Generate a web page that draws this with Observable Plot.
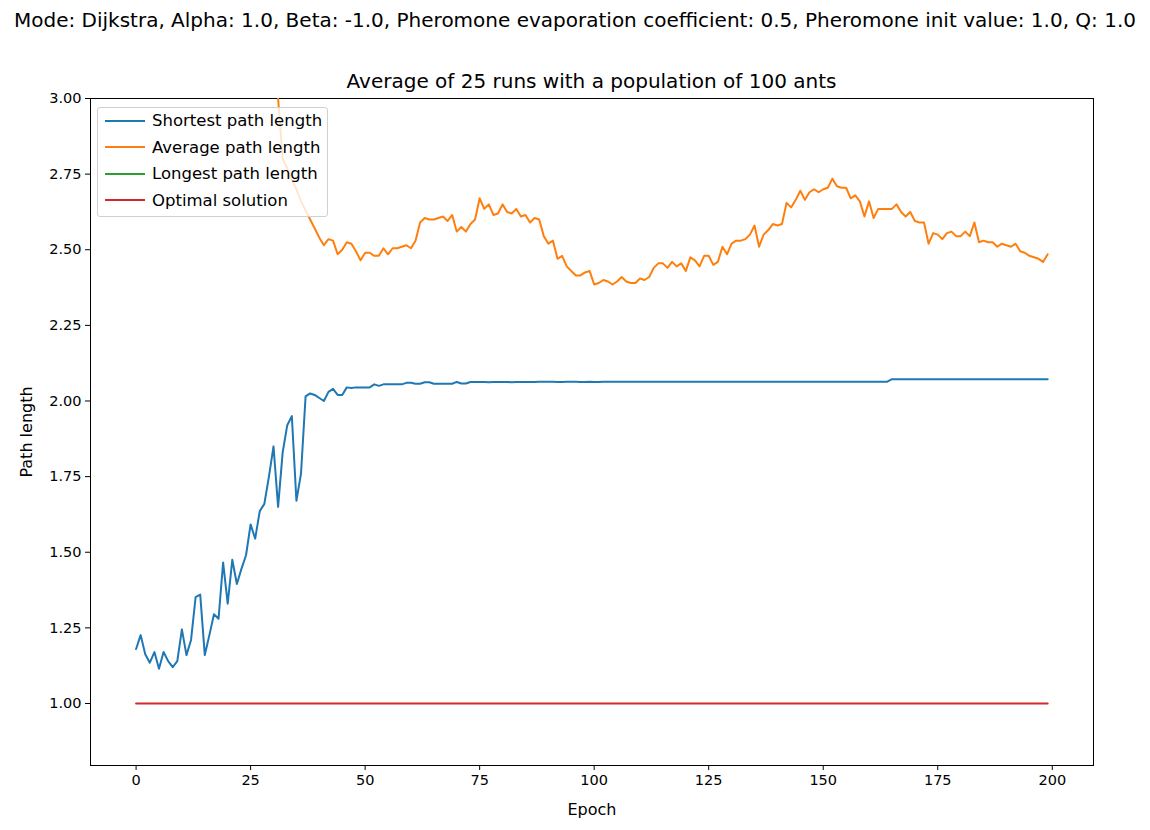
<!DOCTYPE html>
<html>
<head>
<meta charset="utf-8">
<script src="https://cdn.jsdelivr.net/npm/d3@7"></script>
<script src="https://cdn.jsdelivr.net/npm/@observablehq/plot@0.6"></script>
<style>
  body { margin: 0; background: #fff; font-family: "DejaVu Sans", sans-serif; }
  #wrap { position: relative; width: 1150px; height: 830px; }
  .t { position: absolute; text-align: center; color: #000; white-space: nowrap; }
  #legend { position: absolute; left: 97px; top: 107px; width: 229px; height: 108px;
    border: 1px solid #d0d0d0; border-radius: 3px; background: rgba(255,255,255,0.8); font-size: 16.5px; }
  .row { position: absolute; left: 7px; display: flex; align-items: center; }
  .row span.k { width: 40px; height: 2px; margin-right: 7px; }
</style>
</head>
<body>
<div id="wrap">
  <div class="t" style="top:8px;left:0;width:1150px;font-size:20px">Mode: Dijkstra, Alpha: 1.0, Beta: -1.0, Pheromone evaporation coefficient: 0.5, Pheromone init value: 1.0, Q: 1.0</div>
  <div class="t" style="top:69px;left:90px;width:1003px;font-size:20px">Average of 25 runs with a population of 100 ants</div>
  <div id="chart" style="position:absolute;left:0;top:0"></div>
  <div id="legend"></div>
</div>
<script>
// data
const shortest = [
  1.18, 1.226, 1.163, 1.135, 1.17, 1.115, 1.17, 1.14, 1.12, 1.14,
  1.245, 1.16, 1.21, 1.352, 1.36, 1.16, 1.226, 1.295, 1.28, 1.466,
  1.33, 1.475, 1.395, 1.445, 1.49, 1.592, 1.545, 1.636, 1.66, 1.75,
  1.85, 1.65, 1.83, 1.92, 1.95, 1.67, 1.76, 2.015, 2.025, 2.02,
  2.01, 2.0, 2.03, 2.04, 2.02, 2.02, 2.045, 2.043, 2.045, 2.045,
  2.045, 2.045, 2.055, 2.05, 2.055, 2.055, 2.055, 2.055, 2.055, 2.06,
  2.06, 2.057, 2.057, 2.062, 2.062, 2.057, 2.057, 2.057, 2.057, 2.057,
  2.063, 2.058, 2.058, 2.063, 2.063, 2.063, 2.063, 2.062, 2.063, 2.063,
  2.063, 2.063, 2.062, 2.063, 2.063, 2.063, 2.063, 2.063, 2.064, 2.064,
  2.064, 2.064, 2.063, 2.063, 2.064, 2.064, 2.064, 2.063, 2.063, 2.064,
  2.063, 2.063, 2.064, 2.064, 2.064, 2.064, 2.064, 2.064, 2.064, 2.064,
  2.064, 2.064, 2.064, 2.064, 2.064, 2.064, 2.064, 2.064, 2.064, 2.064,
  2.064, 2.064, 2.064, 2.064, 2.064, 2.064, 2.064, 2.064, 2.064, 2.064,
  2.064, 2.064, 2.064, 2.064, 2.064, 2.064, 2.064, 2.064, 2.064, 2.064,
  2.064, 2.064, 2.064, 2.064, 2.064, 2.064, 2.064, 2.064, 2.064, 2.064,
  2.064, 2.064, 2.064, 2.064, 2.064, 2.064, 2.064, 2.064, 2.064, 2.064,
  2.064, 2.064, 2.064, 2.064, 2.064, 2.072, 2.072, 2.072, 2.072, 2.072,
  2.072, 2.072, 2.072, 2.072, 2.072, 2.072, 2.072, 2.072, 2.072, 2.072,
  2.072, 2.072, 2.072, 2.072, 2.072, 2.072, 2.072, 2.072, 2.072, 2.072,
  2.072, 2.072, 2.072, 2.072, 2.072, 2.072, 2.072, 2.072, 2.072, 2.072
];

// average path length from epoch 29 on (earlier values are off the top of the chart)
const averageStart = 29;
const average = [
  3.45, 3.22,
  3.0, 2.80, 2.77, 2.73, 2.70, 2.66, 2.63, 2.60, 2.57,
  2.54, 2.515, 2.535, 2.53, 2.485, 2.50, 2.525, 2.52, 2.495, 2.465,
  2.49, 2.49, 2.48, 2.48, 2.505, 2.485, 2.505, 2.505, 2.51, 2.515,
  2.505, 2.53, 2.59, 2.605, 2.6, 2.6, 2.605, 2.61, 2.595, 2.615,
  2.56, 2.575, 2.56, 2.585, 2.60, 2.67, 2.635, 2.65, 2.615, 2.62,
  2.65, 2.625, 2.62, 2.635, 2.61, 2.615, 2.59, 2.605, 2.60, 2.545,
  2.52, 2.53, 2.47, 2.48, 2.445, 2.43, 2.415, 2.415, 2.425, 2.43,
  2.385, 2.39, 2.40, 2.395, 2.385, 2.395, 2.41, 2.395, 2.39, 2.39,
  2.405, 2.40, 2.41, 2.44, 2.455, 2.455, 2.44, 2.46, 2.445, 2.455,
  2.43, 2.475, 2.465, 2.445, 2.48, 2.48, 2.45, 2.46, 2.51, 2.485,
  2.52, 2.53, 2.53, 2.535, 2.55, 2.58, 2.51, 2.55, 2.565, 2.585,
  2.58, 2.585, 2.655, 2.64, 2.665, 2.695, 2.665, 2.69, 2.70, 2.69,
  2.70, 2.705, 2.735, 2.71, 2.705, 2.705, 2.67, 2.68, 2.66, 2.61,
  2.66, 2.605, 2.635, 2.635, 2.635, 2.635, 2.65, 2.625, 2.61, 2.625,
  2.595, 2.59, 2.59, 2.52, 2.555, 2.55, 2.535, 2.555, 2.56, 2.545,
  2.545, 2.56, 2.545, 2.59, 2.525, 2.53, 2.525, 2.525, 2.51, 2.52,
  2.515, 2.51, 2.52, 2.495, 2.49, 2.48, 2.475, 2.47, 2.46, 2.485
];

const optimal = [1.0, 1.0];
const optimalEpochs = [0, 199];

const seriesNames = ['Shortest path length', 'Average path length', 'Longest path length', 'Optimal solution'];
const seriesColors = ['#1f77b4', '#ff7f0e', '#2ca02c', '#d62728'];
const xTicks = [0, 25, 50, 75, 100, 125, 150, 175, 200];
const yTicks = [1.0, 1.25, 1.5, 1.75, 2.0, 2.25, 2.5, 2.75, 3.0];

const shortData = shortest.map((v, i) => ({epoch: i, v}));
const avgData = average.map((v, i) => ({epoch: averageStart + i, v}));
const optData = optimal.map((v, i) => ({epoch: optimalEpochs[i], v}));

// plot
const fig = Plot.plot({
  width: 1150,
  height: 830,
  marginTop: 98,
  marginLeft: 90,
  marginRight: 57,
  marginBottom: 65,
  style: {fontFamily: 'DejaVu Sans, sans-serif', fontSize: '14.5px', color: '#000', background: 'transparent'},
  x: {domain: [-9.95, 209.0], ticks: xTicks, tickFormat: d3.format('d'), label: 'Epoch', labelArrow: 'none', labelAnchor: 'center', labelOffset: 49, tickSize: 5},
  y: {domain: [0.795, 3.0], ticks: yTicks, tickFormat: d3.format('.2f'), label: 'Path length', labelArrow: 'none', labelAnchor: 'center', labelOffset: 70, tickSize: 5},
  marks: [
    Plot.frame({stroke: '#000'}),
    Plot.line(optData, {x: 'epoch', y: 'v', stroke: seriesColors[3], strokeWidth: 2}),
    Plot.line(avgData, {x: 'epoch', y: 'v', stroke: seriesColors[1], strokeWidth: 2, clip: true}),
    Plot.line(shortData, {x: 'epoch', y: 'v', stroke: seriesColors[0], strokeWidth: 2, clip: true})
  ]
});
fig.querySelectorAll('[aria-label$="axis label"]').forEach(g => g.setAttribute('font-size', '16'));
document.querySelector('#chart').append(fig);

// legend
const legend = document.querySelector('#legend');
seriesNames.forEach((name, i) => {
  const row = document.createElement('div');
  row.className = 'row';
  row.style.top = (3 + i * 26.5) + 'px';
  row.innerHTML = `<span class="k" style="background:${seriesColors[i]}"></span><span>${name}</span>`;
  legend.append(row);
});
</script>
</body>
</html>
